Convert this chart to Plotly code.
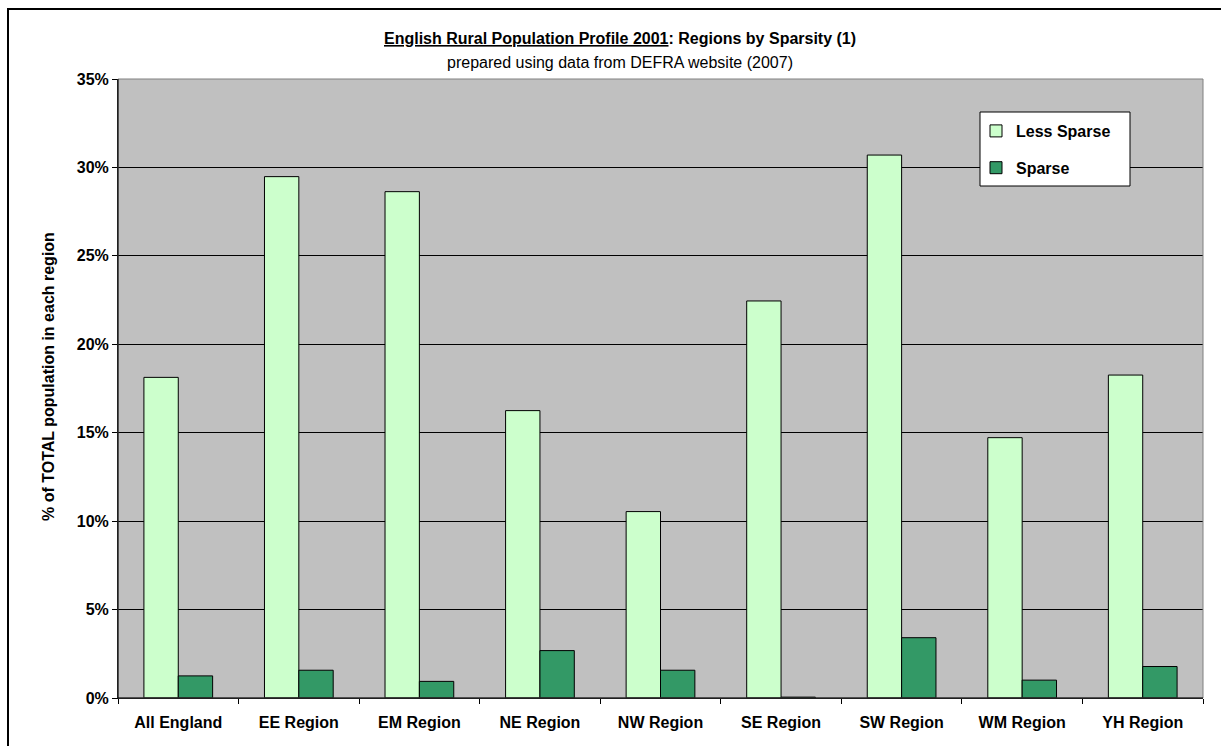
import plotly.graph_objects as go

# Rural population share by region, split by sparsity class (fractions of total)
regions = ["All England", "EE Region", "EM Region", "NE Region", "NW Region",
           "SE Region", "SW Region", "WM Region", "YH Region"]
less_sparse = [0.1813, 0.2948, 0.2863, 0.1625, 0.1054, 0.2245, 0.3070, 0.1472, 0.1826]
sparse = [0.0125, 0.0157, 0.0094, 0.0268, 0.0157, 0.0005, 0.0341, 0.0101, 0.0178]

y_ticks = [0, 0.05, 0.10, 0.15, 0.20, 0.25, 0.30, 0.35]

FONT = "Arial, 'Liberation Sans', sans-serif"

# plot area in pixels
W, H = 1221, 746
L, R, T, B = 118, 1203, 79, 698


def px(x):
    return (x - L) / (R - L)


def py(y):
    return (B - y) / (B - T)


fig = go.Figure()
fig.add_trace(go.Bar(
    x=regions, y=less_sparse, name="Less Sparse", legendgroup="a",
    marker=dict(color="#CCFFCC", line=dict(color="#000000", width=1)),
))
fig.add_trace(go.Bar(
    x=regions, y=sparse, name="Sparse", legendgroup="b",
    marker=dict(color="#339966", line=dict(color="#000000", width=1)),
))

fig.update_layout(
    width=W, height=H,
    margin=dict(l=L, r=W - R, t=T, b=H - B, pad=0),
    paper_bgcolor="#FFFFFF",
    plot_bgcolor="#C0C0C0",
    barmode="group",
    bargap=0.43,
    bargroupgap=0,
    font=dict(family=FONT, size=16, color="#000000"),
    showlegend=True,
    legend=dict(
        x=px(976), y=py(114), xanchor="left", yanchor="top",
        bgcolor="rgba(0,0,0,0)", borderwidth=0,
        font=dict(family=FONT, size=16, color="#000000", weight="bold"),
        tracegroupgap=13, traceorder="grouped",
    ),
    xaxis=dict(
        type="category",
        showgrid=False,
        showline=True, linecolor="#000000", linewidth=1,
        ticks="outside", ticklen=5, tickcolor="#000000",
        tickson="boundaries",
        ticklabelstandoff=10,
        tickfont=dict(family=FONT, size=16, color="#000000", weight="bold"),
        fixedrange=True,
    ),
    yaxis=dict(
        range=[0, 0.35],
        tickvals=y_ticks,
        tickformat=".0%",
        showgrid=True, gridcolor="#000000", gridwidth=1,
        showline=True, linecolor="#000000", linewidth=1,
        ticks="outside", ticklen=5, tickcolor="#000000",
        tickfont=dict(family=FONT, size=16, color="#000000", weight="bold"),
        zeroline=False,
        fixedrange=True,
    ),
)

# outer chart frame
fig.add_shape(type="rect", xref="paper", yref="paper",
              x0=px(8), x1=px(1240), y0=py(770), y1=py(9),
              line=dict(color="#000000", width=2), fillcolor="rgba(0,0,0,0)",
              layer="below")
# plot area frame (top / right edges)
fig.add_shape(type="rect", xref="paper", yref="paper",
              x0=0, x1=1, y0=0, y1=1,
              line=dict(color="#808080", width=1), fillcolor="rgba(0,0,0,0)",
              layer="above")
# redraw left and bottom axis lines over the frame
fig.add_shape(type="line", xref="paper", yref="paper", x0=0, x1=0, y0=0, y1=1,
              line=dict(color="#000000", width=1), layer="above")
fig.add_shape(type="line", xref="paper", yref="paper", x0=0, x1=1, y0=0, y1=0,
              line=dict(color="#000000", width=1), layer="above")
# legend box
fig.add_shape(type="rect", xref="paper", yref="paper",
              x0=px(980), x1=px(1130), y0=py(186), y1=py(112),
              line=dict(color="#000000", width=1), fillcolor="#FFFFFF",
              layer="above")

# titles
fig.add_annotation(
    text="<b><u>English Rural Population Profile 2001</u>: Regions by Sparsity (1)</b>",
    xref="paper", yref="paper", x=px(620), y=py(38),
    xanchor="center", yanchor="middle", showarrow=False,
    font=dict(family=FONT, size=16, color="#000000"),
)
fig.add_annotation(
    text="prepared using data from DEFRA website (2007)",
    xref="paper", yref="paper", x=px(620), y=py(62),
    xanchor="center", yanchor="middle", showarrow=False,
    font=dict(family=FONT, size=16, color="#000000"),
)
fig.add_annotation(
    text="<b>% of TOTAL population in each region</b>",
    xref="paper", yref="paper", x=px(48), y=py(377),
    xanchor="center", yanchor="middle", showarrow=False, textangle=-90,
    font=dict(family=FONT, size=16, color="#000000"),
)

fig.write_html("out.html")
